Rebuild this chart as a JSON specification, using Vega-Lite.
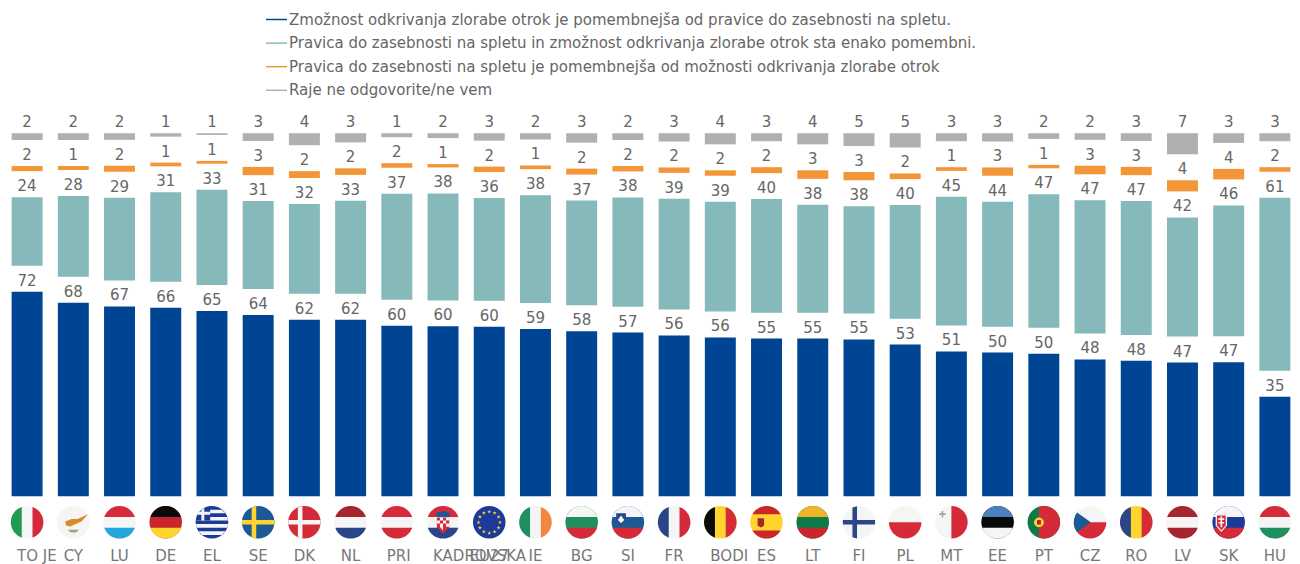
{"$schema":"https://vega.github.io/schema/vega-lite/v6.json","width":1294,"height":445,"autosize":"none","padding":{"left":4,"top":97,"right":2,"bottom":22},"background":"white","config":{"view":{"stroke":null},"font":"DejaVu Sans"},
"encoding":{"x":{"field":"c","type":"nominal","title":null,"sort":null,"scale":{"domain":["TO JE","CY","LU","DE","EL","SE","DK","NL","PRI","KADROVSKA","EU27","IE","BG","SI","FR","BODI","ES","LT","FI","PL","MT","EE","PT","CZ","RO","LV","SK","HU"],"paddingInner":0.33,"paddingOuter":0.165},"axis":null}},
"layer":[
{"data":{"values":[
{"c":"TO JE","s":"A","v":71.7},{"c":"TO JE","s":"B","v":24.1},{"c":"TO JE","s":"C","v":1.8},{"c":"TO JE","s":"D","v":2.4},
{"c":"CY","s":"A","v":67.9},{"c":"CY","s":"B","v":28.3},{"c":"CY","s":"C","v":1.4},{"c":"CY","s":"D","v":2.4},
{"c":"LU","s":"A","v":66.6},{"c":"LU","s":"B","v":29.0},{"c":"LU","s":"C","v":2.1},{"c":"LU","s":"D","v":2.3},
{"c":"DE","s":"A","v":66.1},{"c":"DE","s":"B","v":31.4},{"c":"DE","s":"C","v":1.3},{"c":"DE","s":"D","v":1.2},
{"c":"EL","s":"A","v":65.0},{"c":"EL","s":"B","v":33.4},{"c":"EL","s":"C","v":1.0},{"c":"EL","s":"D","v":0.6},
{"c":"SE","s":"A","v":63.6},{"c":"SE","s":"B","v":30.8},{"c":"SE","s":"C","v":2.9},{"c":"SE","s":"D","v":2.7},
{"c":"DK","s":"A","v":61.9},{"c":"DK","s":"B","v":31.5},{"c":"DK","s":"C","v":2.4},{"c":"DK","s":"D","v":4.2},
{"c":"NL","s":"A","v":61.9},{"c":"NL","s":"B","v":32.6},{"c":"NL","s":"C","v":2.3},{"c":"NL","s":"D","v":3.2},
{"c":"PRI","s":"A","v":59.8},{"c":"PRI","s":"B","v":37.2},{"c":"PRI","s":"C","v":1.6},{"c":"PRI","s":"D","v":1.4},
{"c":"KADROVSKA","s":"A","v":59.6},{"c":"KADROVSKA","s":"B","v":37.5},{"c":"KADROVSKA","s":"C","v":1.2},{"c":"KADROVSKA","s":"D","v":1.7},
{"c":"EU27","s":"A","v":59.5},{"c":"EU27","s":"B","v":36.0},{"c":"EU27","s":"C","v":1.9},{"c":"EU27","s":"D","v":2.6},
{"c":"IE","s":"A","v":58.7},{"c":"IE","s":"B","v":37.8},{"c":"IE","s":"C","v":1.3},{"c":"IE","s":"D","v":2.2},
{"c":"BG","s":"A","v":57.9},{"c":"BG","s":"B","v":36.7},{"c":"BG","s":"C","v":2.1},{"c":"BG","s":"D","v":3.3},
{"c":"SI","s":"A","v":57.4},{"c":"SI","s":"B","v":38.3},{"c":"SI","s":"C","v":1.9},{"c":"SI","s":"D","v":2.4},
{"c":"FR","s":"A","v":56.4},{"c":"FR","s":"B","v":38.8},{"c":"FR","s":"C","v":1.9},{"c":"FR","s":"D","v":2.9},
{"c":"BODI","s":"A","v":55.7},{"c":"BODI","s":"B","v":38.5},{"c":"BODI","s":"C","v":1.9},{"c":"BODI","s":"D","v":3.9},
{"c":"ES","s":"A","v":55.3},{"c":"ES","s":"B","v":39.8},{"c":"ES","s":"C","v":2.1},{"c":"ES","s":"D","v":2.8},
{"c":"LT","s":"A","v":55.3},{"c":"LT","s":"B","v":37.8},{"c":"LT","s":"C","v":3.0},{"c":"LT","s":"D","v":3.9},
{"c":"FI","s":"A","v":55.0},{"c":"FI","s":"B","v":37.6},{"c":"FI","s":"C","v":2.9},{"c":"FI","s":"D","v":4.5},
{"c":"PL","s":"A","v":53.2},{"c":"PL","s":"B","v":39.8},{"c":"PL","s":"C","v":2.0},{"c":"PL","s":"D","v":5.0},
{"c":"MT","s":"A","v":50.8},{"c":"MT","s":"B","v":45.1},{"c":"MT","s":"C","v":1.3},{"c":"MT","s":"D","v":2.8},
{"c":"EE","s":"A","v":50.4},{"c":"EE","s":"B","v":43.8},{"c":"EE","s":"C","v":2.9},{"c":"EE","s":"D","v":2.9},
{"c":"PT","s":"A","v":50.0},{"c":"PT","s":"B","v":46.8},{"c":"PT","s":"C","v":1.2},{"c":"PT","s":"D","v":2.0},
{"c":"CZ","s":"A","v":48.0},{"c":"CZ","s":"B","v":46.7},{"c":"CZ","s":"C","v":3.0},{"c":"CZ","s":"D","v":2.3},
{"c":"RO","s":"A","v":47.5},{"c":"RO","s":"B","v":46.9},{"c":"RO","s":"C","v":2.9},{"c":"RO","s":"D","v":2.7},
{"c":"LV","s":"A","v":46.9},{"c":"LV","s":"B","v":41.8},{"c":"LV","s":"C","v":3.9},{"c":"LV","s":"D","v":7.4},
{"c":"SK","s":"A","v":47.0},{"c":"SK","s":"B","v":45.9},{"c":"SK","s":"C","v":3.7},{"c":"SK","s":"D","v":3.4},
{"c":"HU","s":"A","v":34.9},{"c":"HU","s":"B","v":60.7},{"c":"HU","s":"C","v":1.6},{"c":"HU","s":"D","v":2.8}
]},
"transform":[{"calculate":"indexof(['A','B','C','D'],datum.s)","as":"rank"},{"stack":"v","groupby":["c"],"sort":[{"field":"rank","order":"ascending"}],"as":["s0","s1"]},{"calculate":"datum.s0+datum.rank*9.1","as":"y0"},{"calculate":"datum.s1+datum.rank*9.1","as":"y1"}],
"layer":[
{"mark":{"type":"bar"},"encoding":{"y":{"field":"y0","type":"quantitative","title":null,"scale":{"domain":[-16,140],"nice":false,"zero":false},"axis":null},"y2":{"field":"y1"},"color":{"field":"s","type":"nominal","scale":{"domain":["A","B","C","D"],"range":["#004494","#85B9BA","#F39638","#B0B0B0"]},"legend":{"orient":"none","legendX":261,"legendY":-89,"title":null,"symbolType":"M-1,-0.07L1,-0.07L1,0.07L-1,0.07Z","symbolSize":441,"labelFontSize":15,"labelColor":"#666666","labelFont":"DejaVu Sans","labelLimit":900,"rowPadding":3.6,"labelOffset":1,"labelExpr":"{'A':'Zmožnost odkrivanja zlorabe otrok je pomembnejša od pravice do zasebnosti na spletu.','B':'Pravica do zasebnosti na spletu in zmožnost odkrivanja zlorabe otrok sta enako pomembni.','C':'Pravica do zasebnosti na spletu je pomembnejša od možnosti odkrivanja zlorabe otrok','D':'Raje ne odgovorite/ne vem'}[datum.label]"}}}},
{"mark":{"type":"text","baseline":"bottom","dy":-3,"fontSize":15,"font":"DejaVu Sans","color":"#666666"},"encoding":{"y":{"field":"y1","type":"quantitative","scale":{"domain":[-16,140],"nice":false,"zero":false},"axis":null},"text":{"field":"v","type":"quantitative","format":".0f"}}}
]},
{"data":{"values":[
{"c":"TO JE","p":"base","k":"white"},{"c":"TO JE","p":"capL","k":"green"},{"c":"TO JE","p":"capR","k":"red"},
{"c":"CY","p":"base","k":"white"},{"c":"CY","p":"cyIsland","k":"amber"},{"c":"CY","p":"cyOlive","k":"olive"},
{"c":"LU","p":"base","k":"white"},{"c":"LU","p":"capT","k":"red"},{"c":"LU","p":"capB","k":"sky"},
{"c":"DE","p":"base","k":"dered"},{"c":"DE","p":"capT","k":"black"},{"c":"DE","p":"capB","k":"gold"},
{"c":"EL","p":"base","k":"royal"},{"c":"EL","p":"grStripes","k":"white"},{"c":"EL","p":"grCanton","k":"royal"},{"c":"EL","p":"grCross","k":"white"},
{"c":"SE","p":"base","k":"steel"},{"c":"SE","p":"cross","k":"gold"},
{"c":"DK","p":"base","k":"red"},{"c":"DK","p":"cross","k":"white"},
{"c":"NL","p":"base","k":"white"},{"c":"NL","p":"capT","k":"maroon"},{"c":"NL","p":"capB","k":"navy"},
{"c":"PRI","p":"base","k":"white"},{"c":"PRI","p":"capT","k":"red"},{"c":"PRI","p":"capB","k":"red"},
{"c":"KADROVSKA","p":"base","k":"white"},{"c":"KADROVSKA","p":"capT","k":"red"},{"c":"KADROVSKA","p":"capB","k":"navy"},{"c":"KADROVSKA","p":"hrShield","k":"red"},{"c":"KADROVSKA","p":"hrChecks","k":"white"},{"c":"KADROVSKA","p":"hrCrown","k":"steel"},
{"c":"EU27","p":"base","k":"royal"},{"c":"EU27","p":"euStars","k":"gold"},
{"c":"IE","p":"base","k":"white"},{"c":"IE","p":"capL","k":"teal"},{"c":"IE","p":"capR","k":"orange"},
{"c":"BG","p":"base","k":"teal"},{"c":"BG","p":"capT","k":"white"},{"c":"BG","p":"capB","k":"red"},
{"c":"SI","p":"base","k":"steel"},{"c":"SI","p":"capT","k":"white"},{"c":"SI","p":"capB","k":"red"},{"c":"SI","p":"siShield","k":"navy"},{"c":"SI","p":"siPeak","k":"white"},
{"c":"FR","p":"base","k":"white"},{"c":"FR","p":"capL","k":"navy"},{"c":"FR","p":"capR","k":"red"},
{"c":"BODI","p":"base","k":"gold"},{"c":"BODI","p":"capL","k":"black"},{"c":"BODI","p":"capR","k":"red"},
{"c":"ES","p":"base","k":"gold"},{"c":"ES","p":"wideT","k":"dered"},{"c":"ES","p":"wideB","k":"dered"},{"c":"ES","p":"esCrest","k":"maroon"},
{"c":"LT","p":"base","k":"dgreen"},{"c":"LT","p":"capT","k":"amberY"},{"c":"LT","p":"capB","k":"dered"},
{"c":"FI","p":"base","k":"white"},{"c":"FI","p":"cross","k":"navy"},
{"c":"PL","p":"base","k":"white"},{"c":"PL","p":"halfB","k":"red"},
{"c":"MT","p":"base","k":"white"},{"c":"MT","p":"halfR","k":"red"},{"c":"MT","p":"mtCross","k":"grey"},
{"c":"EE","p":"base","k":"black"},{"c":"EE","p":"capT","k":"steelL"},{"c":"EE","p":"capB","k":"white"},
{"c":"PT","p":"base","k":"dgreen"},{"c":"PT","p":"ptRed","k":"red"},{"c":"PT","p":"ptCrest","k":"gold"},{"c":"PT","p":"ptInner","k":"maroon"},
{"c":"CZ","p":"base","k":"white"},{"c":"CZ","p":"halfB","k":"red"},{"c":"CZ","p":"czTri","k":"steel"},
{"c":"RO","p":"base","k":"gold"},{"c":"RO","p":"capL","k":"navy"},{"c":"RO","p":"capR","k":"red"},
{"c":"LV","p":"base","k":"white"},{"c":"LV","p":"capT","k":"maroon"},{"c":"LV","p":"capB","k":"maroon"},
{"c":"SK","p":"base","k":"royal"},{"c":"SK","p":"capT","k":"white"},{"c":"SK","p":"capB","k":"red"},{"c":"SK","p":"skShield","k":"white"},{"c":"SK","p":"skInner","k":"red"},{"c":"SK","p":"skCross","k":"white"},
{"c":"HU","p":"base","k":"white"},{"c":"HU","p":"capT","k":"red"},{"c":"HU","p":"capB","k":"teal"}
]},
"layer":[
{"transform":[{"filter":"datum.p=='base'"}],"mark":{"type":"point","shape":"circle","filled":true,"opacity":1,"size":900,"color":"#B5B5B5"},"encoding":{"y":{"datum":-9.1,"type":"quantitative","scale":{"domain":[-16,140],"nice":false,"zero":false},"axis":null}}},
{"transform":[{"filter":"datum.p=='base' && indexof(['TO JE','PRI','KADROVSKA','BODI'],datum.c)<0"}],"mark":{"type":"text","align":"center","baseline":"middle","fontSize":15,"font":"DejaVu Sans","color":"#777777"},"encoding":{"y":{"datum":-20.8,"type":"quantitative","scale":{"domain":[-16,140],"nice":false,"zero":false},"axis":null},"text":{"field":"c","type":"nominal"}}},
{"transform":[{"filter":"datum.p=='base' && indexof(['TO JE','PRI','KADROVSKA','BODI'],datum.c)>=0"}],"mark":{"type":"text","align":"left","dx":-10,"baseline":"middle","fontSize":15,"font":"DejaVu Sans","color":"#777777"},"encoding":{"y":{"datum":-20.8,"type":"quantitative","scale":{"domain":[-16,140],"nice":false,"zero":false},"axis":null},"text":{"field":"c","type":"nominal"}}},
{"mark":{"type":"point","filled":true,"opacity":1,"size":1060,"strokeWidth":0},"encoding":{"y":{"datum":-9.1,"type":"quantitative","scale":{"domain":[-16,140],"nice":false,"zero":false},"axis":null},
"fill":{"field":"k","type":"nominal","legend":null,"scale":{"domain":["white","green","red","amber","olive","sky","dered","black","gold","royal","steel","maroon","navy","teal","orange","dgreen","amberY","grey","steelL"],"range":["#F5F5F5","#1E9B4E","#D52B38","#D98B2B","#9AA67E","#25A7DC","#C8252C","#0A0A0A","#FFD42E","#1C3A9C","#1B5A94","#A6252F","#2A4689","#1F8F60","#F2873F","#0E7A45","#F0B428","#A8A0A0","#4A82C0"]}},
"shape":{"field":"p","type":"nominal","legend":null,"scale":{"domain":["base","capL","capR","capT","capB","wideT","wideB","halfB","halfR","cross","grStripes","grCanton","grCross","cyIsland","cyOlive","hrShield","hrChecks","hrCrown","euStars","siShield","siPeak","esCrest","mtCross","ptRed","ptCrest","ptInner","czTri","skShield","skInner","skCross"],"range":[
"M-1,0A1,1 0 1 1 1,0A1,1 0 1 1 -1,0Z",
"M-0.33,-0.944A1,1 0 0 0 -0.33,0.944Z",
"M0.33,-0.944A1,1 0 0 1 0.33,0.944Z",
"M-0.944,-0.33A1,1 0 0 1 0.944,-0.33Z",
"M-0.944,0.33A1,1 0 0 0 0.944,0.33Z",
"M-0.866,-0.5A1,1 0 0 1 0.866,-0.5Z",
"M-0.866,0.5A1,1 0 0 0 0.866,0.5Z",
"M-1,0A1,1 0 0 0 1,0Z",
"M0,-1A1,1 0 0 1 0,1Z",
"M-0.4,-0.917L-0.12,-0.993L-0.12,-0.14L0.99,-0.14L0.99,0.14L-0.12,0.14L-0.12,0.993L-0.4,0.917L-0.4,0.14L-0.99,0.14L-0.99,-0.14L-0.4,-0.14Z",
"M-0.6,-0.778L0.6,-0.778L0.83,-0.556L-0.83,-0.556ZM-0.94,-0.333L0.94,-0.333L0.99,-0.111L-0.99,-0.111ZM-0.99,0.111L0.99,0.111L0.94,0.333L-0.94,0.333ZM-0.83,0.556L0.83,0.556L0.6,0.778L-0.6,0.778Z",
"M-0.11,-0.994L-0.11,-0.11L-0.994,-0.11A1,1 0 0 1 -0.11,-0.994Z",
"M-0.65,-0.75L-0.47,-0.88L-0.47,-0.65L-0.11,-0.65L-0.11,-0.47L-0.47,-0.47L-0.47,-0.11L-0.65,-0.11L-0.65,-0.47L-0.88,-0.47L-0.88,-0.65L-0.65,-0.65Z",
"M-0.5,-0.05L-0.1,-0.2L0.25,-0.2L0.6,-0.35L0.9,-0.5L0.5,-0.05L0.15,0.1L-0.2,0.25L-0.45,0.2Z",
"M-0.35,0.45L0.35,0.45L0.15,0.62L-0.15,0.62Z",
"M-0.38,-0.3L0.38,-0.3L0.38,0.3L0,0.68L-0.38,0.3Z",
"M-0.19,-0.3L0,-0.3L0,-0.11L-0.19,-0.11ZM0.19,-0.3L0.38,-0.3L0.38,-0.11L0.19,-0.11ZM-0.38,-0.11L-0.19,-0.11L-0.19,0.08L-0.38,0.08ZM0,-0.11L0.19,-0.11L0.19,0.08L0,0.08ZM-0.19,0.08L0,0.08L0,0.27L-0.19,0.27ZM0.19,0.08L0.38,0.08L0.38,0.27L0.19,0.27ZM-0.2,0.27L-0.01,0.27L0,0.46L-0.01,0.49Z",
"M-0.38,-0.32L-0.42,-0.55L-0.2,-0.65L0,-0.7L0.2,-0.65L0.42,-0.55L0.38,-0.32Z",
"M0,-0.79l0.029,0.09l0.095,0l-0.077,0.055l0.029,0.09l-0.076,-0.055l-0.076,0.055l0.029,-0.09l-0.077,-0.055l0.095,0zM0.33,-0.702l0.029,0.09l0.095,0l-0.077,0.055l0.029,0.09l-0.076,-0.055l-0.076,0.055l0.029,-0.09l-0.077,-0.055l0.095,0zM0.572,-0.46l0.029,0.09l0.095,0l-0.077,0.055l0.029,0.09l-0.076,-0.055l-0.076,0.055l0.029,-0.09l-0.077,-0.055l0.095,0zM0.66,-0.13l0.029,0.09l0.095,0l-0.077,0.055l0.029,0.09l-0.076,-0.055l-0.076,0.055l0.029,-0.09l-0.077,-0.055l0.095,0zM0.572,0.2l0.029,0.09l0.095,0l-0.077,0.055l0.029,0.09l-0.076,-0.055l-0.076,0.055l0.029,-0.09l-0.077,-0.055l0.095,0zM0.33,0.442l0.029,0.09l0.095,0l-0.077,0.055l0.029,0.09l-0.076,-0.055l-0.076,0.055l0.029,-0.09l-0.077,-0.055l0.095,0zM0,0.53l0.029,0.09l0.095,0l-0.077,0.055l0.029,0.09l-0.076,-0.055l-0.076,0.055l0.029,-0.09l-0.077,-0.055l0.095,0zM-0.33,0.442l0.029,0.09l0.095,0l-0.077,0.055l0.029,0.09l-0.076,-0.055l-0.076,0.055l0.029,-0.09l-0.077,-0.055l0.095,0zM-0.572,0.2l0.029,0.09l0.095,0l-0.077,0.055l0.029,0.09l-0.076,-0.055l-0.076,0.055l0.029,-0.09l-0.077,-0.055l0.095,0zM-0.66,-0.13l0.029,0.09l0.095,0l-0.077,0.055l0.029,0.09l-0.076,-0.055l-0.076,0.055l0.029,-0.09l-0.077,-0.055l0.095,0zM-0.572,-0.46l0.029,0.09l0.095,0l-0.077,0.055l0.029,0.09l-0.076,-0.055l-0.076,0.055l0.029,-0.09l-0.077,-0.055l0.095,0zM-0.33,-0.702l0.029,0.09l0.095,0l-0.077,0.055l0.029,0.09l-0.076,-0.055l-0.076,0.055l0.029,-0.09l-0.077,-0.055l0.095,0z",
"M-0.72,-0.55L-0.12,-0.55L-0.12,-0.1L-0.42,0.2L-0.72,-0.1Z",
"M-0.62,-0.15L-0.42,-0.42L-0.22,-0.15L-0.42,0.05Z",
"M-0.55,-0.25L-0.15,-0.25L-0.15,0.2L-0.35,0.32L-0.55,0.2Z",
"M-0.6,-0.7L-0.5,-0.7L-0.5,-0.55L-0.35,-0.55L-0.35,-0.45L-0.5,-0.45L-0.5,-0.3L-0.6,-0.3L-0.6,-0.45L-0.75,-0.45L-0.75,-0.55L-0.6,-0.55Z",
"M-0.3,-0.954A1,1 0 1 1 -0.3,0.954Z",
"M-0.6,0A0.3,0.3 0 1 1 0,0A0.3,0.3 0 1 1 -0.6,0Z",
"M-0.42,-0.14L-0.18,-0.14L-0.18,0.14L-0.42,0.14Z",
"M-0.8,-0.6L0.05,0L-0.8,0.6A1,1 0 0 1 -0.8,-0.6Z",
"M-0.8,-0.5L-0.1,-0.5L-0.1,0.2L-0.45,0.6L-0.8,0.2Z",
"M-0.72,-0.42L-0.18,-0.42L-0.18,0.18L-0.45,0.48L-0.72,0.18Z",
"M-0.5,-0.38L-0.4,-0.38L-0.4,-0.25L-0.27,-0.25L-0.27,-0.15L-0.4,-0.15L-0.4,-0.02L-0.28,-0.02L-0.28,0.08L-0.4,0.08L-0.4,0.3L-0.5,0.3L-0.5,0.08L-0.62,0.08L-0.62,-0.02L-0.5,-0.02L-0.5,-0.15L-0.63,-0.15L-0.63,-0.25L-0.5,-0.25Z"
]}}}}
]}
]}
